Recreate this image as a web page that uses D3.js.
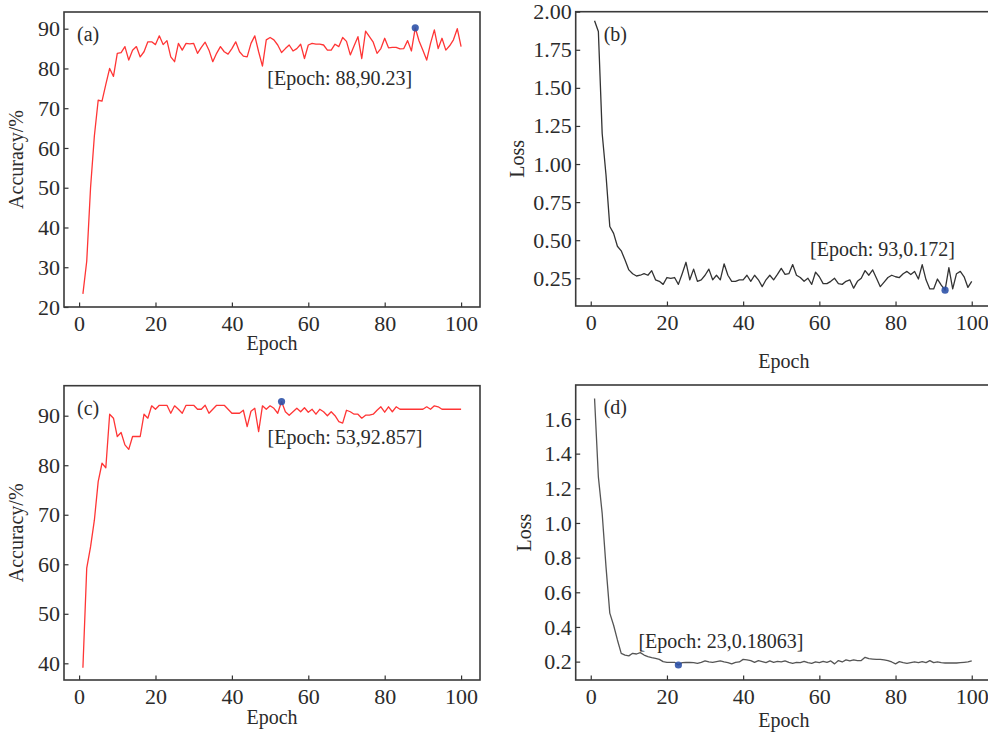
<!DOCTYPE html>
<html lang="en">
<head>
<meta charset="UTF-8">
<title>Training curves</title>
<script src="https://d3js.org/d3.v7.min.js"></script>
<style>
  body { margin: 0; background: #fff; }
  svg text { font-family: "Liberation Serif", "Times New Roman", serif; fill: #2b2b2b; }
</style>
</head>
<body>
<script>
// epochs 1..100
const epochs = d3.range(1, 101);

// (a) accuracy, %
const accA = [
  23.3, 31.5, 50, 63, 72, 71.8, 76, 80, 78, 83.8,
  84, 85.5, 82.1, 84.6, 85.5, 82.9, 84.2, 86.7, 86.7, 86,
  88.2, 86, 87, 82.9, 81.7, 86.3, 84.6, 86.3, 86.2, 86.3,
  83.8, 85.3, 86.6, 84.6, 81.7, 83.8, 85.5, 84.2, 83.6, 85,
  86.7, 84.2, 83.1, 82.9, 86.3, 88.2, 84.2, 80.6, 87.2, 87.8,
  87.2, 85.9, 84, 85, 85.9, 84.4, 85, 86.1, 82.5, 85.9,
  86.3, 86.1, 86.1, 85.9, 84.6, 84.6, 86.1, 85.5, 87.8, 86.8,
  83.4, 85.7, 88, 82.5, 89.4, 88, 86.6, 83.8, 85, 87.6,
  85.2, 85.3, 85.3, 84.9, 85, 87, 84.4, 90.23, 86.9, 84.6,
  82.1, 86.3, 89.7, 85, 87.6, 84.6, 85.7, 87.2, 90, 85.5
];

// (b) loss
const lossB = [
  1.94, 1.87, 1.20, 0.93, 0.59, 0.545, 0.46, 0.43, 0.37, 0.305,
  0.28, 0.265, 0.27, 0.28, 0.27, 0.30, 0.24, 0.23, 0.21, 0.255,
  0.25, 0.255, 0.21, 0.28, 0.355, 0.24, 0.31, 0.23, 0.24, 0.27,
  0.31, 0.24, 0.27, 0.24, 0.345, 0.27, 0.23, 0.23, 0.24, 0.24,
  0.27, 0.23, 0.27, 0.24, 0.195, 0.24, 0.27, 0.24, 0.275, 0.315,
  0.275, 0.28, 0.34, 0.27, 0.255, 0.23, 0.25, 0.21, 0.29, 0.26,
  0.215, 0.215, 0.23, 0.25, 0.215, 0.21, 0.23, 0.24, 0.185, 0.23,
  0.25, 0.30, 0.27, 0.305, 0.25, 0.195, 0.225, 0.255, 0.27, 0.26,
  0.255, 0.28, 0.295, 0.275, 0.295, 0.245, 0.34, 0.24, 0.18, 0.18,
  0.245, 0.205, 0.172, 0.32, 0.18, 0.28, 0.295, 0.26, 0.19, 0.23
];

// (c) accuracy, %
const accC = [
  39.1, 59.2, 63.5, 68.9, 76.7, 80.4, 79.5, 90.3, 89.5, 85.8,
  86.6, 84.1, 83.2, 85.8, 85.8, 85.8, 90.3, 89.5, 92, 91.3,
  92.1, 92.1, 92.1, 90.5, 92, 91.3, 90.5, 92.1, 92.1, 92.1,
  91.3, 91.3, 92.1, 90.5, 91.3, 92.1, 92.1, 92.1, 91.3, 90.5,
  90.5, 90.5, 91.1, 87.8, 90.9, 91.5, 86.8, 92, 91.3, 92,
  91.5, 90.5, 92.857, 90.8, 90.1, 90.8, 91.5, 90.8, 91.6, 90.7,
  91.3, 90.3, 91.3, 90.8, 90, 90.8, 90, 88.8, 88.5, 91.1,
  90.8, 90.3, 90.3, 89.5, 90.1, 90.1, 90.3, 91.1, 91.8, 90.7,
  91.8, 90.8, 91.8, 91.3, 91.3, 91.3, 91.3, 91.3, 91.3, 91.3,
  91.8, 91.3, 92, 91.8, 91.3, 91.3, 91.3, 91.3, 91.3, 91.3
];

// (d) loss
const lossD = [
  1.718, 1.266, 1.055, 0.748, 0.48, 0.41, 0.325, 0.248, 0.238, 0.233,
  0.248, 0.244, 0.252, 0.238, 0.229, 0.223, 0.219, 0.213, 0.2, 0.196,
  0.196, 0.196, 0.181, 0.194, 0.195, 0.196, 0.194, 0.19, 0.196, 0.204,
  0.198, 0.196, 0.2, 0.204, 0.198, 0.194, 0.187, 0.196, 0.198, 0.213,
  0.21, 0.206, 0.196, 0.206, 0.2, 0.194, 0.204, 0.196, 0.202, 0.198,
  0.204, 0.196, 0.19, 0.196, 0.194, 0.202, 0.194, 0.19, 0.198, 0.194,
  0.202, 0.196, 0.204, 0.187, 0.206, 0.198, 0.21, 0.204, 0.21, 0.206,
  0.206, 0.225, 0.217, 0.215, 0.213, 0.213, 0.21, 0.206, 0.198, 0.187,
  0.2, 0.194, 0.19, 0.194, 0.198, 0.194, 0.2, 0.194, 0.206, 0.194,
  0.198, 0.194, 0.192, 0.192, 0.192, 0.192, 0.194, 0.196, 0.198, 0.204
];

// tick values
const xTicks = [0, 20, 40, 60, 80, 100];
const accTicksA = [20, 30, 40, 50, 60, 70, 80, 90];
const lossTicksB = [0.25, 0.5, 0.75, 1.0, 1.25, 1.5, 1.75, 2.0];
const accTicksC = [40, 50, 60, 70, 80, 90];
const lossTicksD = [0.2, 0.4, 0.6, 0.8, 1.0, 1.2, 1.4, 1.6];

// marked points
const bestA = [88, 90.23], bestB = [93, 0.172], bestC = [53, 92.857], bestD = [23, 0.18063];

const W = 988, H = 733;
const svg = d3.select('body').append('svg').attr('width', W).attr('height', H);

const panels = [
  { tag: '(a)', tagDx: 13, values: accA, ticks: accTicksA, fmt: d3.format('d'), yDom: [20, 94.2],
    box: [64, 12, 480, 307], color: '#ff3535', ylab: 'Accuracy/%', ylabX: 18, xlabY: 345,
    best: bestA, note: '[Epoch: 88,90.23]', ndx: -148, ndy: 57 },
  { tag: '(b)', tagDx: 28, values: lossB, ticks: lossTicksB, fmt: d3.format('.2f'), yDom: [0.068, 2.0],
    box: [575.7, 11.7, 990.6, 306], color: '#333', ylab: 'Loss', ylabX: 519, xlabY: 363,
    best: bestB, note: '[Epoch: 93,0.172]', ndx: -135, ndy: -34 },
  { tag: '(c)', tagDx: 13, values: accC, ticks: accTicksC, fmt: d3.format('d'), yDom: [36.63, 96.06],
    box: [64, 385.7, 480, 680], color: '#ff3535', ylab: 'Accuracy/%', ylabX: 18, xlabY: 719,
    best: bestC, note: '[Epoch: 53,92.857]', ndx: -14, ndy: 42 },
  { tag: '(d)', tagDx: 28, values: lossD, ticks: lossTicksD, fmt: d3.format('.1f'), yDom: [0.094, 1.796],
    box: [575.7, 385, 990.6, 680], color: '#555', ylab: 'Loss', ylabX: 526, xlabY: 722,
    best: bestD, note: '[Epoch: 23,0.18063]', ndx: -40, ndy: -17 }
];

panels.forEach(p => {
  const [x0, y0, x1, y1] = p.box;
  const x = d3.scaleLinear().domain([-3.95, 104.95]).range([x0, x1]);
  const y = d3.scaleLinear().domain(p.yDom).range([y1, y0]);
  const g = svg.append('g');

  const xAxis = g.append('g').attr('transform', `translate(0,${y1})`)
    .call(d3.axisBottom(x).tickValues(xTicks).tickSize(-4.5).tickPadding(8));
  const yAxis = g.append('g').attr('transform', `translate(${x0},0)`)
    .call(d3.axisLeft(y).tickValues(p.ticks).tickFormat(p.fmt).tickSize(-4.5).tickPadding(4));
  [xAxis, yAxis].forEach(a => {
    a.select('.domain').remove();
    a.selectAll('line').attr('stroke', '#333').attr('stroke-width', 1.2);
    a.selectAll('text').attr('font-size', 22).attr('fill', '#2b2b2b');
  });

  // frame
  g.append('rect').attr('x', x0).attr('y', y0).attr('width', x1 - x0).attr('height', y1 - y0)
    .attr('fill', 'none').attr('stroke', '#3a3a3a').attr('stroke-width', 1.6);

  const line = d3.line().x((d, i) => x(epochs[i])).y(d => y(d));
  g.append('path').datum(p.values).attr('d', line)
    .attr('fill', 'none').attr('stroke', p.color).attr('stroke-width', 1.3).attr('stroke-linejoin', 'round');

  const bx = x(p.best[0]), by = y(p.best[1]);
  g.append('circle').attr('cx', bx).attr('cy', by).attr('r', 3.6).attr('fill', '#2d52a8').attr('opacity', 0.9);

  g.append('text').attr('x', bx + p.ndx).attr('y', by + p.ndy).attr('font-size', 20).text(p.note);
  g.append('text').attr('x', x0 + p.tagDx).attr('y', y0 + 29).attr('font-size', 20).text(p.tag);

  g.append('text').attr('x', (x0 + Math.min(x1, W) + (x1 > W ? 4 : 0)) / 2).attr('y', p.xlabY)
    .attr('text-anchor', 'middle').attr('dominant-baseline', 'middle').attr('font-size', 20).text('Epoch');
  g.append('text').attr('transform', `translate(${p.ylabX},${(y0 + y1) / 2}) rotate(-90)`)
    .attr('text-anchor', 'middle').attr('dominant-baseline', 'middle').attr('font-size', 20).text(p.ylab);
});
</script>
</body>
</html>
